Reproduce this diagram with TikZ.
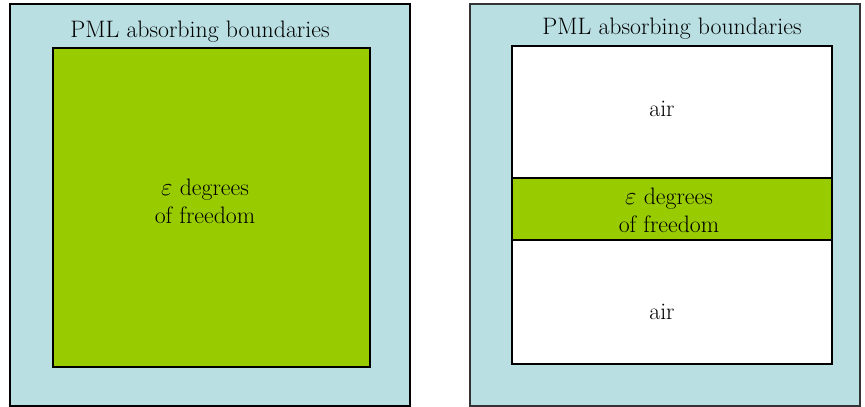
\documentclass[tikz,border=0pt]{standalone}
\usetikzlibrary{positioning}
\definecolor{pmlblue}{RGB}{185,223,227}
\definecolor{epsgreen}{RGB}{153,204,0}

\begin{document}
\begin{tikzpicture}[x=1pt, y=-1pt,
    label text/.style={font=\fontsize{23.8}{28}\selectfont, align=center, inner sep=0pt}]
\useasboundingbox (0,0) rectangle (865,407);

% left: full green domain
\draw[fill=pmlblue, line width=1.2pt] (10,4) rectangle (410,406);
\node[label text, anchor=base] (pmlA) at (200,37) {PML absorbing boundaries};
\draw[fill=epsgreen, line width=1.2pt] (53,48) rectangle (370,367);
\node[label text] (epsA) at (205,201) {$\varepsilon$ degrees\\of freedom};

% right: green band between air
\draw[fill=pmlblue, line width=1.2pt, draw=black!80] (470,4) rectangle (860,406);
\node[label text, anchor=base] (pmlB) at (672,34) {PML absorbing boundaries};
\draw[fill=white, line width=1.2pt] (512,46) rectangle (832,364);
\draw[fill=epsgreen, line width=1.2pt] (512,178) rectangle (832,240);
\node[label text] (airTop) at (662,109) {air};
\node[label text] (epsB) at (669,210) {$\varepsilon$ degrees\\of freedom};
\node[label text] (airBot) at (662,312) {air};

\end{tikzpicture}
\end{document}
